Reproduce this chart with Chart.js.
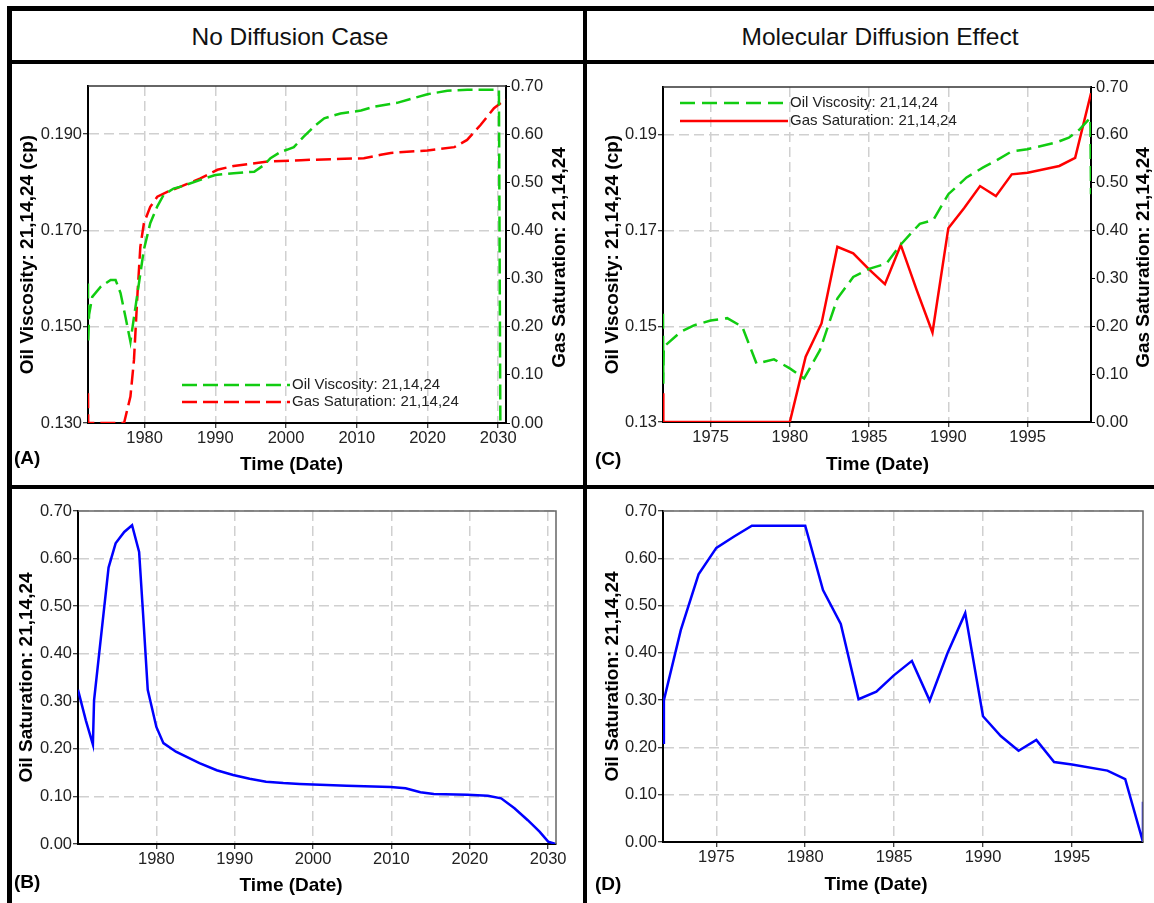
<!DOCTYPE html>
<html>
<head>
<meta charset="utf-8">
<title>Oil viscosity and saturation at block 21,14,24</title>
<script src="https://cdn.jsdelivr.net/npm/chart.js@4.4.1/dist/chart.umd.min.js"></script>
<style>
  html, body { margin: 0; padding: 0; background: #fff; }
  body { width: 1154px; height: 903px; position: relative; overflow: hidden;
         font-family: "Liberation Sans", Arial, sans-serif; }
  .rule { position: absolute; background: #000; }
  .head { position: absolute; top: 23px; line-height: 28px; font-size: 24.5px; color: #111;
          transform: translateX(-50%); white-space: nowrap; }
  .panel { position: absolute; }
  .panel canvas { display: block; }
</style>
</head>
<body>
<div class="rule" style="left:7px;top:6px;width:1147px;height:5px"></div>
<div class="rule" style="left:7px;top:6px;width:5px;height:897px"></div>
<div class="rule" style="left:7px;top:60px;width:1147px;height:4px"></div>
<div class="rule" style="left:583px;top:6px;width:4px;height:897px"></div>
<div class="rule" style="left:7px;top:485px;width:1147px;height:4px"></div>

<div class="head" style="left:290px">No Diffusion Case</div>
<div class="head" style="left:880px">Molecular Diffusion Effect</div>

<div class="panel" style="left:12px;top:64px"><canvas id="chartA" width="571" height="421"></canvas></div>
<div class="panel" style="left:12px;top:489px"><canvas id="chartB" width="571" height="414"></canvas></div>
<div class="panel" style="left:587px;top:64px"><canvas id="chartC" width="567" height="421"></canvas></div>
<div class="panel" style="left:587px;top:489px"><canvas id="chartD" width="567" height="414"></canvas></div>

<script>
// ---- data (block 21,14,24) ----

// (A) no diffusion: oil viscosity (cp)
const aVisYears = [1972.0, 1972.03, 1972.15, 1972.6, 1973.8, 1975.2, 1975.9, 1976.6, 1977.3, 1978.0,
  1979.0, 1979.9, 1980.8, 1981.8, 1982.7, 1984.1, 1985.1, 1987.9, 1990.0, 1992.6, 1995.5, 1996.9,
  1997.8, 1999.2, 2000.2, 2001.1, 2002.5, 2003.9, 2005.4, 2007.7, 2010.6, 2012.4, 2015.7, 2020.0,
  2022.8, 2025.6, 2030.1, 2030.3];
const aVisValues = [0.159, 0.1466, 0.1525, 0.1562, 0.1583, 0.1597, 0.1597, 0.157, 0.152, 0.1469,
  0.157, 0.166, 0.1715, 0.175, 0.1774, 0.1787, 0.1791, 0.1805, 0.1815, 0.1819, 0.1822, 0.1836,
  0.185, 0.1863, 0.1868, 0.1873, 0.1895, 0.1915, 0.1933, 0.1943, 0.1949, 0.1957, 0.1965, 0.1983,
  0.199, 0.1992, 0.1992, 0.130];

// (A) no diffusion: gas saturation
const aGasYears = [1972.0, 1972.03, 1977.1, 1978.0, 1978.5, 1979.0, 1979.4, 1979.9, 1980.8, 1981.8,
  1983.2, 1985.1, 1987.9, 1990.3, 1992.6, 1997.4, 2002.1, 2011.0, 2013.4, 2014.8, 2020.0, 2023.8,
  2025.6, 2027.5, 2029.4, 2030.4, 2031.3];
const aGasValues = [0.062, 0, 0, 0.055, 0.131, 0.269, 0.366, 0.415, 0.449, 0.470,
  0.480, 0.491, 0.508, 0.526, 0.534, 0.543, 0.546, 0.550, 0.557, 0.561, 0.566, 0.573,
  0.588, 0.619, 0.654, 0.665, 0.672];

// (B) no diffusion: oil saturation
const bOilYears = [1970.0, 1971.0, 1971.9, 1972.05, 1972.7, 1973.9, 1974.8, 1975.9, 1976.9, 1977.8,
  1978.3, 1978.9, 1980.0, 1980.9, 1982.5, 1985.5, 1987.7, 1989.8, 1991.9, 1994.0, 1996.2, 1998.3,
  2000.0, 2004.3, 2009.9, 2011.8, 2013.7, 2015.4, 2019.7, 2022.3, 2024.0, 2025.7, 2027.4, 2028.9,
  2030.0, 2031.0];
const bOilValues = [0.324, 0.260, 0.209, 0.302, 0.400, 0.581, 0.632, 0.656, 0.670, 0.614,
  0.485, 0.324, 0.246, 0.212, 0.194, 0.170, 0.155, 0.145, 0.137, 0.131, 0.128, 0.126,
  0.125, 0.1225, 0.120, 0.117, 0.109, 0.105, 0.1036, 0.1015, 0.096, 0.075, 0.050, 0.026,
  0.005, 0.0];

// (C) molecular diffusion: oil viscosity (cp)
const cVisYears = [1972.0, 1972.02, 1972.05, 1973.1, 1973.95, 1975.0, 1976.05, 1977.0, 1977.9, 1979.0,
  1980.0, 1980.9, 1981.9, 1983.0, 1984.0, 1985.0, 1986.1, 1986.95, 1987.8, 1988.2, 1989.05, 1990.0,
  1991.15, 1992.2, 1993.0, 1993.97, 1994.98, 1996.8, 1997.6, 1998.3, 1998.96, 1999.0];
const cVisValues = [0.1526, 0.138, 0.1457, 0.1488, 0.1502, 0.1512, 0.1517, 0.1499, 0.1422, 0.1431,
  0.1412, 0.1391, 0.145, 0.1558, 0.1603, 0.162, 0.1631, 0.1669, 0.170, 0.1714, 0.1722, 0.1776,
  0.1811, 0.1832, 0.1846, 0.1865, 0.187, 0.1884, 0.1894, 0.1912, 0.1936, 0.1776];

// (C) molecular diffusion: gas saturation
const cGasYears = [1972.0, 1972.02, 1980.0, 1981.0, 1982.0, 1983.0, 1984.0, 1985.0, 1986.0, 1987.0,
  1988.0, 1989.0, 1990.0, 1991.0, 1992.0, 1993.0, 1994.0, 1995.0, 1997.0, 1998.0, 1999.0];
const cGasValues = [0.06, 0, 0, 0.1365, 0.206, 0.366, 0.3525, 0.319, 0.288, 0.370,
  0.276, 0.187, 0.405, 0.447, 0.493, 0.472, 0.5175, 0.521, 0.535, 0.552, 0.687];

// (D) molecular diffusion: oil saturation
const dOilYears = [1972.0, 1972.05, 1973.0, 1974.0, 1975.0, 1976.0, 1977.0, 1980.0, 1981.0, 1982.0,
  1983.0, 1984.0, 1985.0, 1986.0, 1987.0, 1988.0, 1989.0, 1990.0, 1991.0, 1992.0, 1993.0, 1994.0,
  1995.0, 1997.0, 1998.0, 1999.0, 1999.0];
const dOilValues = [0.21, 0.30, 0.448, 0.566, 0.622, 0.646, 0.669, 0.669, 0.533, 0.461,
  0.302, 0.318, 0.353, 0.383, 0.299, 0.399, 0.484, 0.266, 0.224, 0.193, 0.216, 0.169,
  0.164, 0.151, 0.133, 0.0, 0.085];

// tick labels
const longYearTicks = [1980, 1990, 2000, 2010, 2020, 2030];
const shortYearTicks = [1975, 1980, 1985, 1990, 1995];
const viscosityTicks = [0.13, 0.15, 0.17, 0.19];
const saturationTicks = [0, 0.1, 0.2, 0.3, 0.4, 0.5, 0.6, 0.7];

const FONT = '"Liberation Sans", Arial, sans-serif';
const GREEN = '#11cc11';
const RED = '#ff0000';
const BLUE = '#0000ff';
const VIS_LABEL = 'Oil Viscosity: 21,14,24';
const GAS_LABEL = 'Gas Saturation: 21,14,24';
const OIL_LABEL = 'Oil Saturation: 21,14,24';

function points(xs, ys) {
    return xs.map((x, i) => ({ x: x, y: ys[i] }));
}

function series(label, xs, ys, color, dash, axis) {
    return {
        label: label,
        data: points(xs, ys),
        yAxisID: axis || 'y',
        borderColor: color,
        borderWidth: 2.5,
        borderDash: dash || [],
        pointRadius: 0,
        tension: 0,
        fill: false
    };
}

// x axis with fixed ticks and fixed height
function timeAxis(min, max, ticks, height) {
    return {
        type: 'linear',
        min: min,
        max: max,
        afterBuildTicks: s => { s.ticks = ticks.map(v => ({ value: v })); },
        afterFit: s => { s.height = height; },
        ticks: {
            autoSkip: false, maxRotation: 0, padding: 1, color: '#222',
            font: { family: FONT, size: 16.5 },
            callback: v => String(v)
        },
        grid: { color: '#d0d0d0', lineWidth: 1.5, tickColor: '#000', tickLength: 5, tickWidth: 1 },
        border: { color: '#000', width: 2, dash: [10, 5] }
    };
}

function leftAxis(min, max, ticks, decimals, width, title, titlePad) {
    return {
        type: 'linear',
        position: 'left',
        min: min,
        max: max,
        afterBuildTicks: s => { s.ticks = ticks.map(v => ({ value: v })); },
        afterFit: s => { s.width = width; },
        ticks: {
            autoSkip: false, padding: 1, color: '#222',
            font: { family: FONT, size: 16.5 },
            callback: v => v.toFixed(decimals)
        },
        grid: { color: '#d0d0d0', lineWidth: 1.5, tickColor: '#000', tickLength: 5, tickWidth: 1 },
        border: { color: '#000', width: 2, dash: [10, 5] },
        title: {
            display: true, text: title, color: '#000',
            font: { family: FONT, size: 19, weight: 'bold' },
            padding: { top: titlePad, bottom: 0 }
        }
    };
}

function rightAxis(width) {
    return {
        type: 'linear',
        position: 'right',
        min: 0,
        max: 0.7,
        afterBuildTicks: s => { s.ticks = saturationTicks.map(v => ({ value: v })); },
        afterFit: s => { s.width = width; },
        ticks: {
            autoSkip: false, padding: 1, color: '#222',
            font: { family: FONT, size: 16.5 },
            callback: v => v.toFixed(2)
        },
        grid: { drawOnChartArea: false, tickColor: '#000', tickLength: 4, tickWidth: 1 },
        border: { color: '#000', width: 2 }
    };
}

// frame edges, legend, titles and panel tag
const decor = {
    id: 'decor',
    afterDraw(chart, args, o) {
        const ctx = chart.ctx;
        const a = chart.chartArea;
        ctx.save();

        ctx.strokeStyle = o.frameColor;
        ctx.lineWidth = 1.5;
        ctx.beginPath();
        ctx.moveTo(a.left, a.top);
        ctx.lineTo(a.right, a.top);
        if (o.closeRight) ctx.lineTo(a.right, a.bottom);
        ctx.stroke();

        if (o.legend) {
            const L = o.legend;
            ctx.font = '15px ' + FONT;
            ctx.textBaseline = 'middle';
            ctx.textAlign = 'left';
            ctx.fillStyle = '#222';
            chart.data.datasets.forEach((ds, i) => {
                const y = (L.fromBottom ? a.bottom - L.y : a.top + L.y) + i * L.gap;
                const x0 = a.left + L.x;
                ctx.strokeStyle = ds.borderColor;
                ctx.lineWidth = ds.borderWidth;
                ctx.setLineDash(ds.borderDash);
                ctx.beginPath();
                ctx.moveTo(x0, y);
                ctx.lineTo(x0 + L.len, y);
                ctx.stroke();
                ctx.setLineDash([]);
                ctx.fillText(ds.label, x0 + L.len + 2, y);
            });
        }

        ctx.fillStyle = '#000';
        ctx.font = 'bold 19px ' + FONT;
        ctx.textBaseline = 'middle';

        ctx.textAlign = 'center';
        ctx.fillText('Time (Date)', o.xTitle.cx, o.xTitle.cy);

        ctx.textAlign = 'left';
        ctx.fillText(o.tag.text, o.tag.x, o.tag.y);

        if (o.rightTitle) {
            ctx.translate(a.right + o.rightTitle.dx, (a.top + a.bottom) / 2 + 3);
            ctx.rotate(-Math.PI / 2);
            ctx.textAlign = 'center';
            ctx.fillText(o.rightTitle.text, 0, 0);
        }
        ctx.restore();
    }
};

function makeChart(id, datasets, scales, padding, decorOpts) {
    return new Chart(document.getElementById(id), {
        type: 'line',
        data: { datasets: datasets },
        options: {
            responsive: false,
            animation: false,
            devicePixelRatio: 1,
            layout: { padding: padding },
            scales: scales,
            plugins: {
                legend: { display: false },
                tooltip: { enabled: false },
                decor: decorOpts
            }
        },
        plugins: [decor]
    });
}

// (A)
makeChart('chartA', [
    series(VIS_LABEL, aVisYears, aVisValues, GREEN, [15, 6], 'y'),
    series(GAS_LABEL, aGasYears, aGasValues, RED, [15, 6], 'y1')
], {
    x: timeAxis(1972, 2031.1, longYearTicks, 62),
    y: leftAxis(0.13, 0.20, viscosityTicks, 3, 76, 'Oil Viscosity: 21,14,24 (cp)', 4),
    y1: rightAxis(77)
}, { top: 22, right: 0, bottom: 0, left: 0 }, {
    frameColor: '#333', closeRight: false,
    legend: { x: 94, y: 38, fromBottom: true, gap: 17, len: 108 },
    xTitle: { cx: 279.5, cy: 401 },
    rightTitle: { text: GAS_LABEL, dx: 54 },
    tag: { text: '(A)', x: 2, y: 395 }
});

// (B)
makeChart('chartB', [
    series(OIL_LABEL, bOilYears, bOilValues, BLUE)
], {
    x: timeAxis(1970, 2031, longYearTicks, 59),
    y: leftAxis(0, 0.7, saturationTicks, 2, 66, OIL_LABEL, 3)
}, { top: 22, right: 27, bottom: 0, left: 0 }, {
    frameColor: '#666', closeRight: true,
    xTitle: { cx: 279, cy: 397 },
    tag: { text: '(B)', x: 2, y: 394 }
});

// (C)
makeChart('chartC', [
    series(VIS_LABEL, cVisYears, cVisValues, GREEN, [15, 7], 'y'),
    series(GAS_LABEL, cGasYears, cGasValues, RED, [], 'y1')
], {
    x: timeAxis(1972, 1999, shortYearTicks, 63),
    y: leftAxis(0.13, 0.20, viscosityTicks, 2, 76, 'Oil Viscosity: 21,14,24 (cp)', 14),
    y1: rightAxis(63)
}, { top: 23, right: 0, bottom: 0, left: 0 }, {
    frameColor: '#333', closeRight: false,
    legend: { x: 17, y: 16, fromBottom: false, gap: 18, len: 108 },
    xTitle: { cx: 290.5, cy: 401 },
    rightTitle: { text: GAS_LABEL, dx: 53 },
    tag: { text: '(C)', x: 8, y: 396 }
});

// (D)
makeChart('chartD', [
    series(OIL_LABEL, dOilYears, dOilValues, BLUE)
], {
    x: timeAxis(1972, 1999, shortYearTicks, 61),
    y: leftAxis(0, 0.7, saturationTicks, 2, 76, OIL_LABEL, 14)
}, { top: 22, right: 11, bottom: 0, left: 0 }, {
    frameColor: '#666', closeRight: true,
    xTitle: { cx: 289, cy: 396 },
    tag: { text: '(D)', x: 8, y: 396 }
});
</script>
</body>
</html>
